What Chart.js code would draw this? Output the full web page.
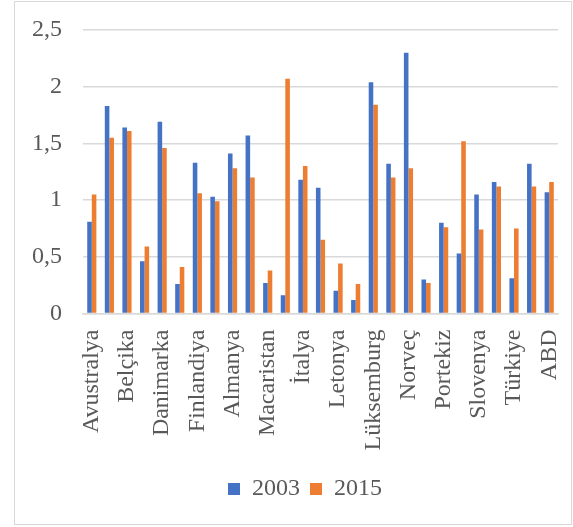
<!DOCTYPE html>
<html lang="tr">
<head>
<meta charset="utf-8">
<title>2003 - 2015</title>
<script src="https://cdn.jsdelivr.net/npm/chart.js@4.4.1/dist/chart.umd.min.js"></script>
<style>
    html, body { margin: 0; padding: 0; background: #fff; }
    #wrap { width: 573px; height: 527px; position: relative; }
</style>
</head>
<body>
<div id="wrap"><canvas id="chart" width="573" height="527"></canvas></div>
<script>
const countries = [
    'Avustralya', 'Avusturya', 'Belçika', 'Çek Cumhuriyeti', 'Danimarka', 'Estonya',
    'Finlandiya', 'Fransa', 'Almanya', 'Yunanistan', 'Macaristan', 'İrlanda',
    'İtalya', 'Kore', 'Letonya', 'Litvanya', 'Lüksemburg', 'Hollanda',
    'Norveç', 'Polonya', 'Portekiz', 'Slovakya', 'Slovenya', 'İspanya',
    'Türkiye', 'İngiltere', 'ABD'
];

const values2003 = [
    0.81, 1.83, 1.64, 0.46, 1.69, 0.26, 1.33, 1.03, 1.41, 1.57,
    0.27, 0.16, 1.18, 1.11, 0.20, 0.12, 2.04, 1.32, 2.30, 0.30,
    0.80, 0.53, 1.05, 1.16, 0.31, 1.32, 1.07
];

const values2015 = [
    1.05, 1.55, 1.61, 0.59, 1.46, 0.41, 1.06, 0.99, 1.28, 1.20,
    0.38, 2.07, 1.30, 0.65, 0.44, 0.26, 1.84, 1.20, 1.28, 0.27,
    0.76, 1.52, 0.74, 1.12, 0.75, 1.12, 1.16
];

const yTicks = [0, 0.5, 1, 1.5, 2, 2.5];

const textColor = '#595959';
const gridColor = '#d9d9d9';
const serif = "'Liberation Serif', 'Times New Roman', serif";

// white background plus the thin frame round the whole chart
const framePlugin = {
    id: 'frame',
    beforeDraw(chart) {
        const ctx = chart.ctx;
        ctx.save();
        ctx.fillStyle = '#fff';
        ctx.fillRect(0, 0, chart.width, chart.height);
        ctx.strokeStyle = '#d9d9d9';
        ctx.lineWidth = 1;
        ctx.strokeRect(14.5, 1.5, 557, 523);
        ctx.restore();
    }
};

// nudge the legend a little to the right of the canvas centre
const legendShift = {
    id: 'legendShift',
    afterLayout(chart) {
        if (!chart.legend) return;
        chart.legend.left += 26;
        chart.legend.right += 26;
    }
};

new Chart(document.getElementById('chart'), {
    type: 'bar',
    data: {
        labels: countries,
        datasets: [
            {
                label: '2003',
                data: values2003,
                backgroundColor: '#4472c4',
                categoryPercentage: 0.52,
                barPercentage: 1
            },
            {
                label: '2015',
                data: values2015,
                backgroundColor: '#ed7d31',
                categoryPercentage: 0.52,
                barPercentage: 1
            }
        ]
    },
    options: {
        responsive: false,
        animation: false,
        layout: {
            padding: { left: 0, right: 15, top: 30, bottom: 16 }
        },
        scales: {
            x: {
                grid: { display: false, drawTicks: false },
                border: { color: gridColor, width: 1.5 },
                ticks: {
                    autoSkip: false,
                    minRotation: 90,
                    maxRotation: 90,
                    padding: 16,
                    color: textColor,
                    font: { family: serif, size: 24 },
                    callback: (value, index) => index % 2 === 0 ? countries[index] : ''
                },
                afterFit: scale => {
                    scale.height = 153.5;
                    scale.paddingLeft = 0;
                    scale.paddingRight = 0;
                }
            },
            y: {
                min: 0,
                max: 2.5,
                afterBuildTicks: scale => { scale.ticks = yTicks.map(v => ({ value: v })); },
                grid: { color: gridColor, lineWidth: 1.5, drawTicks: false },
                border: { display: false },
                ticks: {
                    padding: 21,
                    color: textColor,
                    font: { family: serif, size: 24 },
                    callback: value => String(value).replace('.', ',')
                },
                afterFit: scale => {
                    scale.width = 83;
                    scale.paddingTop = 0;
                    scale.paddingBottom = 0;
                }
            }
        },
        plugins: {
            legend: {
                position: 'bottom',
                labels: {
                    boxWidth: 12,
                    boxHeight: 12,
                    padding: 10,
                    color: textColor,
                    font: { family: serif, size: 24 }
                }
            },
            tooltip: { enabled: false }
        }
    },
    plugins: [framePlugin, legendShift]
});
</script>
</body>
</html>
